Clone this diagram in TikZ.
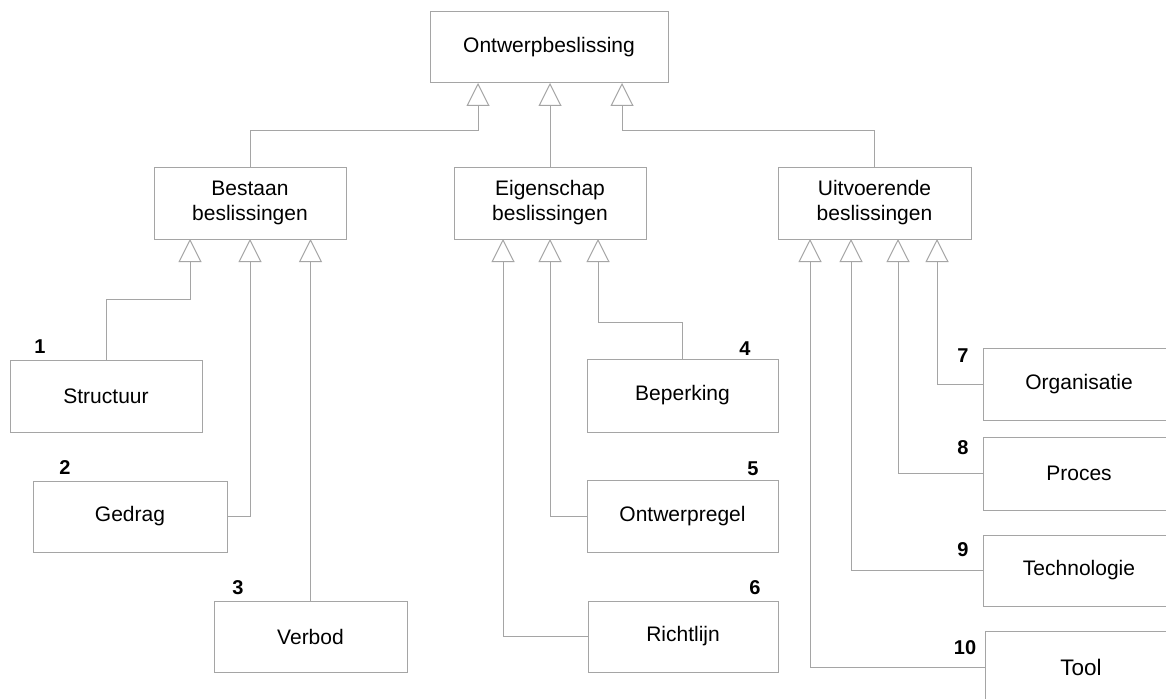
\documentclass[tikz,border=0pt]{standalone}
\usepackage{fontspec}
\setmainfont{Liberation Sans}
\usetikzlibrary{arrows.meta}
\definecolor{linegray}{RGB}{165,165,165}
\tikzset{
  box/.style={draw=linegray, line width=1pt, fill=white, inner sep=0pt, align=center,
    font=\fontsize{21}{25}\selectfont, text=black},
  gen/.style={draw=linegray, line width=1pt,
    -{Triangle[open, length=23pt, width=23pt, line width=1pt]}},
  num/.style={font=\bfseries\fontsize{20}{22}\selectfont, inner sep=0pt, text=black}
}
\begin{document}
\begin{tikzpicture}[x=1pt,y=-1pt]
\clip (0,0) rectangle (1166,698);
\fill[white] (0,0) rectangle (1166,698);

% top
\node[box, minimum width=238pt, minimum height=71pt] (ontw) at (549,47.5) {Ontwerpbeslissing};

% second level
\node[box, minimum width=192pt, minimum height=72pt] (bestaan) at (250,203) {Bestaan\\beslissingen};
\node[box, minimum width=192pt, minimum height=72pt] (eigen) at (550,203) {Eigenschap\\beslissingen};
\node[box, minimum width=193pt, minimum height=72pt] (uitv) at (874.5,203) {Uitvoerende\\beslissingen};

% leaves left
\node[box, minimum width=192pt, minimum height=72pt] (structuur) at (106,396) {Structuur};
\node[box, minimum width=194pt, minimum height=71pt] (gedrag) at (130,516.5) {Gedrag};
\node[box, minimum width=193pt, minimum height=71pt] (verbod) at (310.5,636.5) {Verbod};

% leaves middle
\node[box, minimum width=191pt, minimum height=73pt] (beperking) at (682.5,395.5) {Beperking};
\node[box, minimum width=191pt, minimum height=72pt] (ontwerpregel) at (682.5,516) {Ontwerpregel};
\node[box, minimum width=190pt, minimum height=71pt] (richtlijn) at (683,636.5) {Richtlijn};

% leaves right (cut off at the right edge)
\node[box, minimum width=192pt, minimum height=72pt] (org) at (1079,384) {Organisatie};
\node[box, minimum width=192pt, minimum height=73pt] (proces) at (1079,473.5) {Proces};
\node[box, minimum width=192pt, minimum height=71pt] (techno) at (1079,570.5) {Technologie};
\node[box, minimum width=192pt, minimum height=72pt, font=\fontsize{22.5}{26}\selectfont] (tool) at (1081,667) {Tool};

% numbers
\node[num] (n1) at (40,347) {1};
\node[num] (n2) at (65,468) {2};
\node[num] (n3) at (238,588) {3};
\node[num] (n4) at (745,349) {4};
\node[num] (n5) at (753,469) {5};
\node[num] (n6) at (755,588) {6};
\node[num] (n7) at (963,356) {7};
\node[num] (n8) at (963,448) {8};
\node[num] (n9) at (963,550) {9};
\node[num] (n10) at (965,648) {10};

% attach points
\coordinate (o1) at (478,83);
\coordinate (o2) at (550,83);
\coordinate (o3) at (622,83);
\coordinate (b1) at (190,239);
\coordinate (b2) at (250,239);
\coordinate (b3) at (310.5,239);
\coordinate (e1) at (503,239);
\coordinate (e2) at (550,239);
\coordinate (e3) at (598,239);
\coordinate (u1) at (810,239);
\coordinate (u2) at (851,239);
\coordinate (u3) at (898,239);
\coordinate (u4) at (937,239);

% connectors
\draw[gen] (bestaan.north) -- ++(0,-36) -| (o1);
\draw[gen] (eigen.north) -- (o2);
\draw[gen] (uitv.north) -- ++(0,-36) -| (o3);

\draw[gen] (structuur.north) -- ++(0,-60) -| (b1);
\draw[gen] (gedrag.east) -| (b2);
\draw[gen] (verbod.north) -- (b3);

\draw[gen] (beperking.north) -- ++(0,-36) -| (e3);
\draw[gen] (ontwerpregel.west) -| (e2);
\draw[gen] (richtlijn.west) -| (e1);

\draw[gen] (org.west) -| (u4);
\draw[gen] (proces.west) -| (u3);
\draw[gen] (techno.west) -| (u2);
\draw[gen] (tool.west) -| (u1);
\end{tikzpicture}
\end{document}
